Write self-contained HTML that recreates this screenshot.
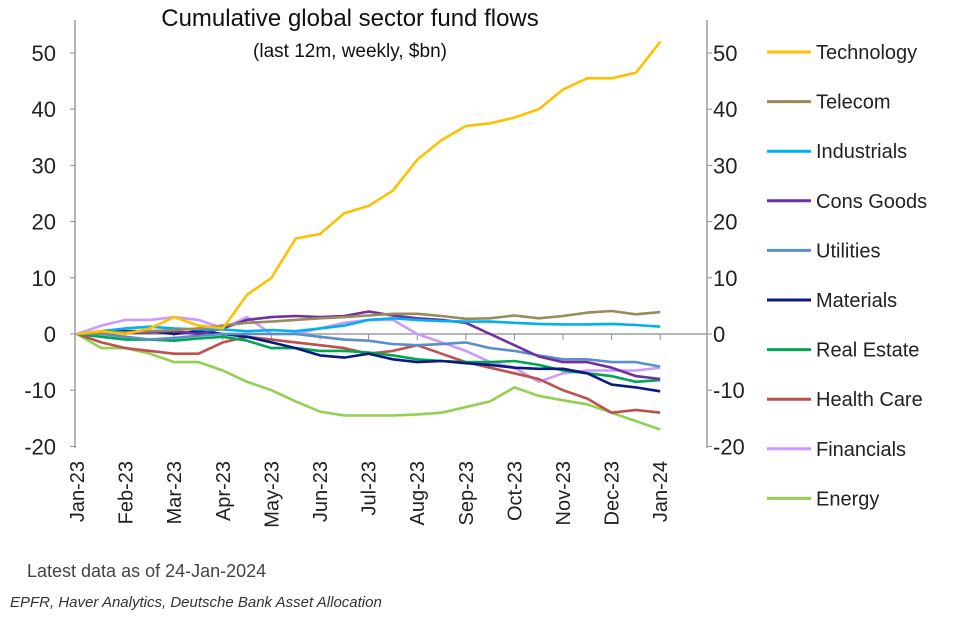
<!DOCTYPE html>
<html><head><meta charset="utf-8">
<style>
body{margin:0;background:#fff;width:954px;height:618px;overflow:hidden;font-family:"Liberation Sans",sans-serif}
svg text{font-family:"Liberation Sans",sans-serif}
</style></head>
<body>
<svg id="chart" width="954" height="618">
<text x="350" y="26" text-anchor="middle" font-size="24" fill="#111">Cumulative global sector fund flows</text>
<text x="350" y="57" text-anchor="middle" font-size="19" fill="#111">(last 12m, weekly, $bn)</text>
<g id="axes"></g>
<g id="series"></g>
<g id="legend"></g>
<text x="27" y="577" font-size="18" fill="#444">Latest data as of 24-Jan-2024</text>
<text x="10" y="607" font-size="15" font-style="italic" fill="#333">EPFR, Haver Analytics, Deutsche Bank Asset Allocation</text>
</svg>
<script>
const months = ["Jan-23","Feb-23","Mar-23","Apr-23","May-23","Jun-23","Jul-23","Aug-23","Sep-23","Oct-23","Nov-23","Dec-23","Jan-24"];
const timePoints = [0,0.5,1,1.5,2,2.5,3,3.5,4,4.5,5,5.5,6,6.5,7,7.5,8,8.5,9,9.5,10,10.5,11,11.5,12];
const yTicks = [50,40,30,20,10,0,-10,-20];
const seriesNames = ["Technology","Telecom","Industrials","Cons Goods","Utilities","Materials","Real Estate","Health Care","Financials","Energy"];
const seriesColors = ["#FFC000","#9A8B5A","#00B0F0","#7030A0","#5B8FC9","#0A1A80","#00A651","#C0504D","#CC99FF","#92D050"];
const technology = [0,0.5,0,1,3,1.5,1,7,10,17,17.8,21.5,22.8,25.5,31,34.5,37,37.5,38.5,40,43.5,45.5,45.5,46.5,52];
const telecom = [0,0.2,0.3,0.5,0.7,1,1.5,2,2.2,2.5,2.8,3,3.3,3.6,3.6,3.2,2.7,2.8,3.3,2.8,3.2,3.8,4.1,3.5,3.9];
const industrials = [0,0.5,1,1.3,1,0.8,0.8,0.5,0.7,0.5,1,1.5,2.5,2.8,2.5,2.3,2.2,2.2,2,1.8,1.7,1.7,1.8,1.6,1.3];
const consGoods = [0,0.3,0.2,0.3,0.5,0,1,2.5,3,3.2,3,3.2,4,3.3,2.8,2.5,2,0,-2,-4,-5,-5,-6,-7.5,-8];
const utilities = [0,0,-0.5,-1,-0.7,-0.3,0,0,0,0,-0.5,-1,-1.2,-1.8,-2,-1.8,-1.5,-2.5,-3,-3.8,-4.5,-4.5,-5,-5,-5.8];
const materials = [0,0.3,0.5,0.5,0,0.5,0,-0.5,-1.5,-2.5,-3.8,-4.2,-3.5,-4.5,-5,-4.8,-5.2,-5.5,-6,-6.2,-6.2,-7,-9,-9.5,-10.2];
const realEstate = [0,-0.5,-1,-1,-1.2,-0.8,-0.5,-1.2,-2.5,-2.5,-3,-3,-3.3,-3.8,-4.5,-4.8,-5,-5,-4.8,-5.5,-6.5,-7,-7.5,-8.5,-8.2];
const healthCare = [0,-1.5,-2.5,-3,-3.5,-3.5,-1.5,-0.5,-1,-1.5,-2,-2.5,-3.5,-3,-2,-3.5,-5,-6,-7,-8,-10,-11.5,-14,-13.5,-14];
const financials = [0,1.5,2.5,2.5,3,2.5,1,3,0,0,1,2,2.5,2.5,0,-1.5,-3,-5,-6,-8.5,-7,-6.5,-6.5,-6.5,-6];
const energy = [0,-2.5,-2.5,-3.5,-5,-5,-6.5,-8.5,-10,-12,-13.8,-14.5,-14.5,-14.5,-14.3,-14,-13,-12,-9.5,-11,-11.8,-12.5,-14,-15.5,-17];
const seriesValues = [technology,telecom,industrials,consGoods,utilities,materials,realEstate,healthCare,financials,energy];

const NS="http://www.w3.org/2000/svg";
const xS = t => 77 + t*48.6;
const yS = v => 334 - v*5.62;
function mk(tag, attrs, parent){const e=document.createElementNS(NS,tag);for(const k in attrs)e.setAttribute(k,attrs[k]);parent.appendChild(e);return e;}
const axes=document.getElementById('axes');
const AX="#8c8c8c";
let e;
e=mk('line',{x1:75,y1:20,x2:75,y2:448,stroke:AX,'stroke-width':1.3},axes);


e=mk('line',{x1:707,y1:20,x2:707,y2:448,stroke:AX,'stroke-width':1.3},axes);


e=mk('line',{x1:75,y1:yS(0),x2:707,y2:yS(0),stroke:AX,'stroke-width':1.3},axes);


yTicks.forEach(v=>{
  const y=yS(v);
  mk('line',{x1:70,y1:y,x2:75,y2:y,stroke:AX},axes);
  mk('line',{x1:707,y1:y,x2:712,y2:y,stroke:AX},axes);
  let t=mk('text',{x:56,y:y+8,'text-anchor':'end','font-size':22,fill:'#222'},axes);
  t.textContent=v;
  
  
  t=mk('text',{x:713,y:y+8,'font-size':22,fill:'#222'},axes);
  t.textContent=v;
  
  
});
months.forEach((m,i)=>{
  const x=xS(i);
  if(i>0) mk('line',{x1:x,y1:yS(0),x2:x,y2:yS(0)+6,stroke:AX},axes);
  const t=mk('text',{x:0,y:0,'text-anchor':'end','font-size':20,fill:'#222',transform:`translate(${x+7},461) rotate(-90)`},axes);
  t.textContent=m;
  
  
});
const sg=document.getElementById('series');
const lg=document.getElementById('legend');
for(let s=seriesValues.length-1;s>=0;s--){
  const vals=seriesValues[s];
  const d=vals.map((v,i)=>(i?'L':'M')+xS(timePoints[i]).toFixed(1)+','+yS(v).toFixed(1)).join(' ');
  const p=mk('path',{d:d,fill:'none',stroke:seriesColors[s],'stroke-width':2.6,'stroke-linejoin':'round'},sg);
  
  
}
seriesNames.forEach((n,i)=>{
  const y=52+i*49.6;
  const g=mk('g',{},lg);
  
  
  mk('line',{x1:767,y1:y,x2:811,y2:y,stroke:seriesColors[i],'stroke-width':3},g);
  const t=mk('text',{x:816,y:y+7,'font-size':20,fill:'#222'},g);
  t.textContent=n;
});
</script>
</body></html>
